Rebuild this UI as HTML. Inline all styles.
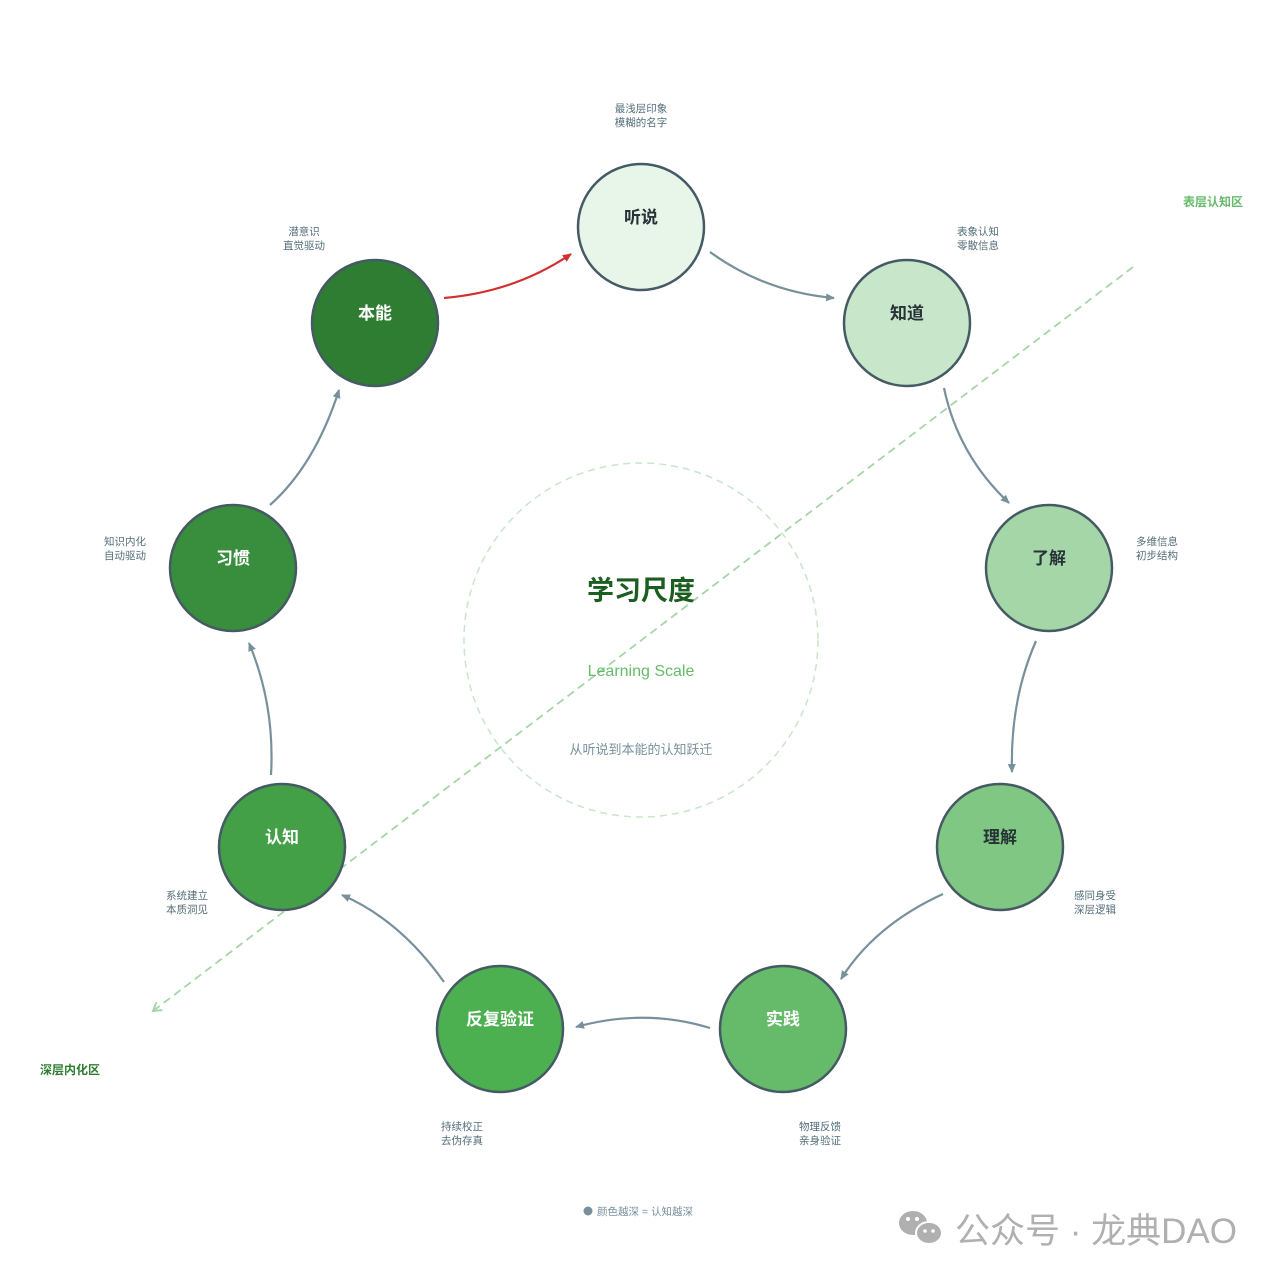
<!DOCTYPE html>
<html><head><meta charset="utf-8">
<style>
html,body{margin:0;padding:0;background:#fff;}
svg{display:block;}
text{font-family:"Liberation Sans","Noto Sans CJK SC",sans-serif;}
</style></head>
<body>
<svg width="1280" height="1281" viewBox="0 0 1280 1281" xmlns="http://www.w3.org/2000/svg">
<defs>
<marker id="ag" markerWidth="10" markerHeight="10" refX="8" refY="5" orient="auto" markerUnits="userSpaceOnUse"><path d="M0,1 L9,5 L0,9 Z" fill="#78909c"/></marker>
<marker id="ar" markerWidth="10" markerHeight="10" refX="8" refY="5" orient="auto" markerUnits="userSpaceOnUse"><path d="M0,1 L9,5 L0,9 Z" fill="#d32f2f"/></marker>
<marker id="al" markerWidth="12" markerHeight="12" refX="9" refY="6" orient="auto" markerUnits="userSpaceOnUse"><path d="M1,1 L9,6 L1,11" fill="none" stroke="#a5d6a7" stroke-width="2"/></marker>
</defs>
<rect width="1280" height="1281" fill="#fff"/>
<circle cx="641" cy="640" r="177" fill="none" stroke="#c8e6c9" stroke-width="1.5" stroke-dasharray="7 5"/>
<line x1="1133" y1="267" x2="153" y2="1011" stroke="#a5d6a7" stroke-width="1.8" stroke-dasharray="8 5" marker-end="url(#al)"/>
<text x="1213" y="206" font-size="12" font-weight="bold" fill="#66bb6a" text-anchor="middle">表层认知区</text>
<text x="70" y="1074" font-size="12" font-weight="bold" fill="#2e7d32" text-anchor="middle">深层内化区</text>

<text x="641" y="600" font-size="27" font-weight="bold" fill="#1b5e20" text-anchor="middle">学习尺度</text>
<text x="641" y="676" font-size="16" fill="#66bb6a" text-anchor="middle">Learning Scale</text>
<text x="641" y="754" font-size="13" fill="#78909c" text-anchor="middle">从听说到本能的认知跃迁</text>

<g fill="none" stroke="#78909c" stroke-width="2.2">
<path d="M710,252 Q765,292 834,298" marker-end="url(#ag)"/>
<path d="M944,388 Q958,455 1009,503" marker-end="url(#ag)"/>
<path d="M1036,641 Q1010,700 1012,772" marker-end="url(#ag)"/>
<path d="M943,894 Q875,925 841,979" marker-end="url(#ag)"/>
<path d="M710,1028 Q645,1008 576,1027" marker-end="url(#ag)"/>
<path d="M444,982 Q400,920 342,895" marker-end="url(#ag)"/>
<path d="M271,775 Q275,705 249,643" marker-end="url(#ag)"/>
<path d="M270,505 Q315,465 339,390" marker-end="url(#ag)"/>
</g>
<path d="M444,298 Q515,292 571,254" fill="none" stroke="#d32f2f" stroke-width="2.2" marker-end="url(#ar)"/>

<g stroke="#455a64" stroke-width="2.5">
<circle cx="641" cy="227" r="63" fill="#e8f5e9"/>
<circle cx="907" cy="323" r="63" fill="#c8e6c9"/>
<circle cx="1049" cy="568" r="63" fill="#a5d6a7"/>
<circle cx="1000" cy="847" r="63" fill="#81c784"/>
<circle cx="783" cy="1029" r="63" fill="#66bb6a"/>
<circle cx="500" cy="1029" r="63" fill="#4caf50"/>
<circle cx="282" cy="847" r="63" fill="#43a047"/>
<circle cx="233" cy="568" r="63" fill="#388e3c"/>
<circle cx="375" cy="323" r="63" fill="#2e7d32"/>
</g>
<g font-size="17" font-weight="bold" text-anchor="middle">
<text x="641" y="223" fill="#263238">听说</text>
<text x="907" y="319" fill="#263238">知道</text>
<text x="1049" y="564" fill="#263238">了解</text>
<text x="1000" y="843" fill="#263238">理解</text>
<text x="783" y="1025" fill="#fff">实践</text>
<text x="500" y="1025" fill="#fff">反复验证</text>
<text x="282" y="843" fill="#fff">认知</text>
<text x="233" y="564" fill="#fff">习惯</text>
<text x="375" y="319" fill="#fff">本能</text>
</g>
<g font-size="10.5" fill="#546e7a" text-anchor="middle">
<text x="641" y="112">最浅层印象</text><text x="641" y="126">模糊的名字</text>
<text x="978" y="235">表象认知</text><text x="978" y="249">零散信息</text>
<text x="1157" y="545">多维信息</text><text x="1157" y="559">初步结构</text>
<text x="1095" y="899">感同身受</text><text x="1095" y="913">深层逻辑</text>
<text x="820" y="1130">物理反馈</text><text x="820" y="1144">亲身验证</text>
<text x="462" y="1130">持续校正</text><text x="462" y="1144">去伪存真</text>
<text x="187" y="899">系统建立</text><text x="187" y="913">本质洞见</text>
<text x="125" y="545">知识内化</text><text x="125" y="559">自动驱动</text>
<text x="304" y="235">潜意识</text><text x="304" y="249">直觉驱动</text>
</g>
<circle cx="588" cy="1211" r="4.5" fill="#78909c"/>
<text x="597" y="1215" font-size="10.5" fill="#78909c">颜色越深 = 认知越深</text>

<g fill="#b0b0b0">
<ellipse cx="913" cy="1223" rx="14" ry="12"/>
<ellipse cx="929" cy="1233" rx="13" ry="11" stroke="#fff" stroke-width="2"/>
</g>
<circle cx="908" cy="1219" r="2" fill="#fff"/><circle cx="917" cy="1219" r="2" fill="#fff"/>
<circle cx="925" cy="1231" r="1.8" fill="#fff"/><circle cx="933" cy="1231" r="1.8" fill="#fff"/>
<text x="955" y="1243" font-size="35" fill="#b0b0b0">公众号 · 龙典DAO</text>
</svg>
</body></html>
